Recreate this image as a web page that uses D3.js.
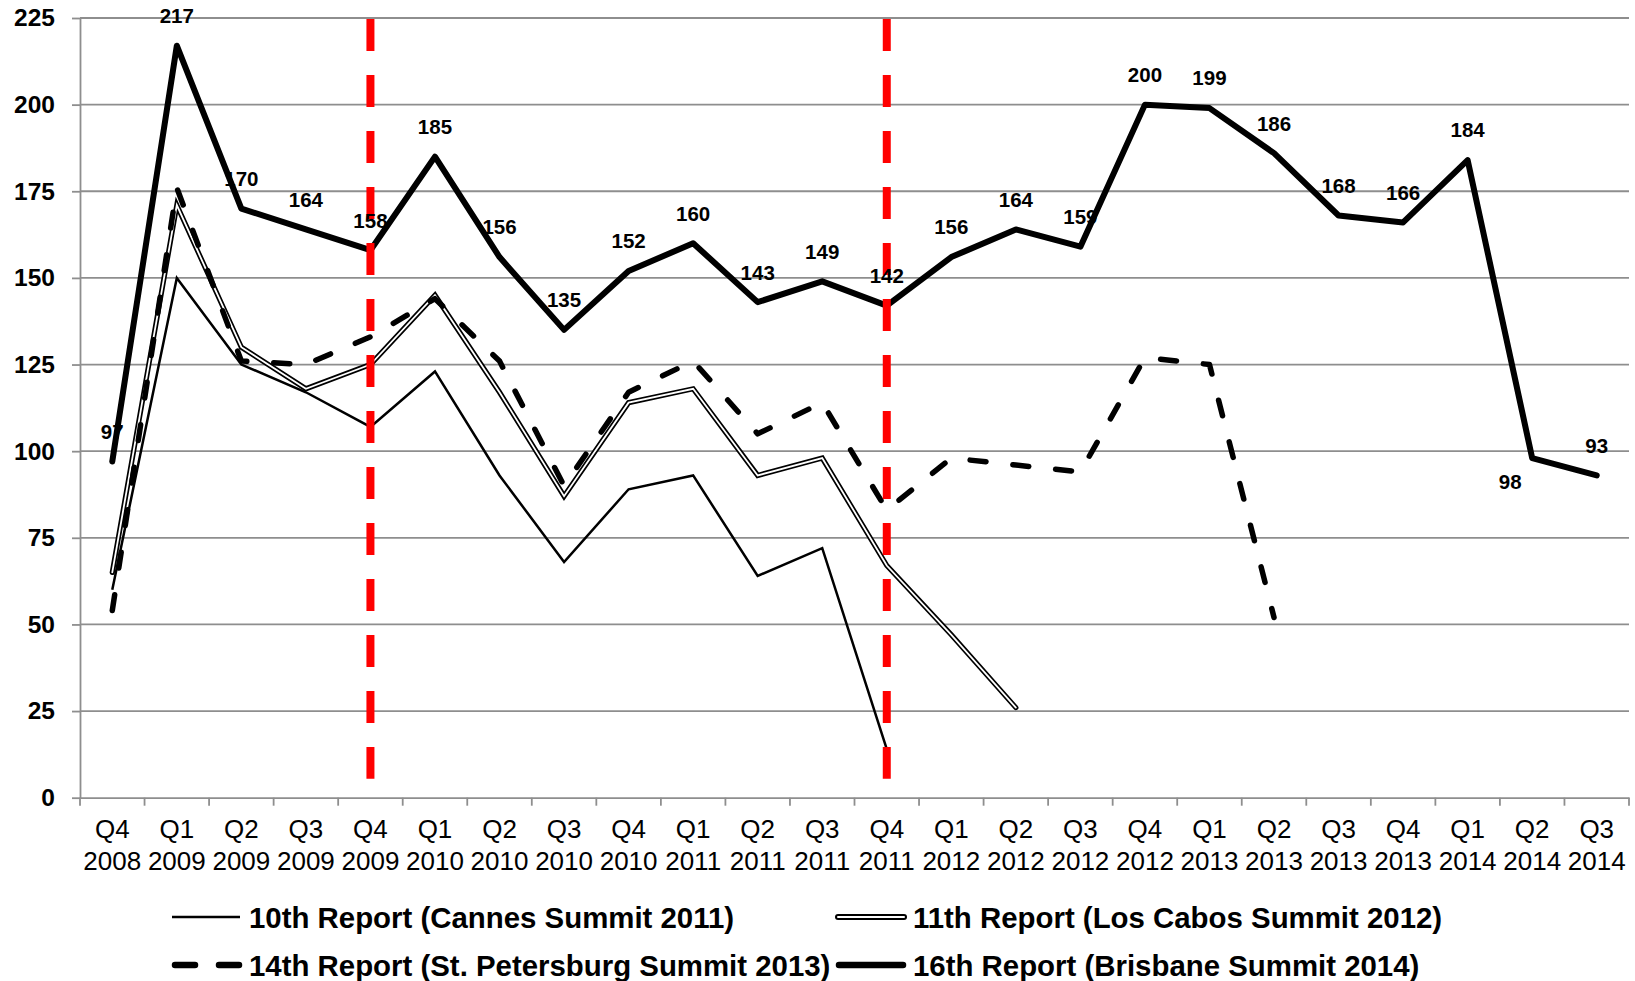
<!DOCTYPE html>
<html>
<head>
<meta charset="utf-8">
<script src="https://cdn.jsdelivr.net/npm/d3@7"></script>
<style>
    body { margin: 0; background: #fff; }
    svg { display: block; font-family: "Liberation Sans", Arial, sans-serif; }
</style>
</head>
<body>
<script>
// quarters on the x axis
var quarters = ["Q4 2008", "Q1 2009", "Q2 2009", "Q3 2009", "Q4 2009", "Q1 2010", "Q2 2010", "Q3 2010",
    "Q4 2010", "Q1 2011", "Q2 2011", "Q3 2011", "Q4 2011", "Q1 2012", "Q2 2012", "Q3 2012",
    "Q4 2012", "Q1 2013", "Q2 2013", "Q3 2013", "Q4 2013", "Q1 2014", "Q2 2014", "Q3 2014"];

// series values, one per quarter (shorter series simply stop)
var cannes = [60, 150, 125, 117, 107, 123, 93, 68, 89, 93, 64, 72, 14];
var losCabos = [65, 171, 130, 118, 125, 145, 117, 87, 114, 118, 93, 98, 67, 47, 26];
var stPetersburg = [54, 176, 126, 125, 133, 144, 126, 90, 117, 126, 105, 114, 83, 98, 96, 94, 127, 125, 52];
var brisbane = [97, 217, 170, 164, 158, 185, 156, 135, 152, 160, 143, 149, 142, 156, 164, 159, 200, 199, 186,
    168, 166, 184, 98, 93];

var yTicks = [0, 25, 50, 75, 100, 125, 150, 175, 200, 225];

// summit markers (red dashed verticals)
var summitQuarters = ["Q4 2009", "Q4 2011"];

var legendNames = ["10th Report (Cannes Summit 2011)", "11th Report (Los Cabos Summit 2012)",
    "14th Report (St. Petersburg Summit 2013)", "16th Report (Brisbane Summit 2014)"];

window.onload = drawChart();

function drawChart() {
    var width = 1635,
        height = 981;

    var svg = d3.select("body")
        .append("svg")
        .attr("width", width)
        .attr("height", height);

    var x = d3.scaleBand()
        .domain(quarters)
        .range([80, 1629]);

    var y = d3.scaleLinear()
        .domain([0, 225])
        .range([797.7, 18]);

    function cx(i) { return x(quarters[i]) + x.bandwidth() / 2; }

    var line = d3.line()
        .x(function(d, i) { return cx(i); })
        .y(function(d) { return y(d); });

    // gridlines
    svg.selectAll(".grid")
        .data(yTicks.slice(1))
        .enter()
        .append("line")
        .attr("class", "grid")
        .attr("x1", 80)
        .attr("x2", 1629)
        .attr("y1", function(d) { return y(d); })
        .attr("y2", function(d) { return y(d); })
        .style("stroke", "#8e8e8e")
        .style("stroke-width", 1.8);

    // y axis
    var yAxis = svg.append("g")
        .attr("transform", "translate(80,0)")
        .call(d3.axisLeft(y).tickValues(yTicks).tickSize(8).tickSizeOuter(0).tickPadding(17));
    yAxis.selectAll("line, path").style("stroke", "#8e8e8e").style("stroke-width", 1.8);
    yAxis.selectAll("text")
        .style("font-size", "24.5px")
        .style("font-weight", "bold")
        .style("fill", "#000")
        .style("font-family", "Liberation Sans, Arial, sans-serif");

    // x axis
    var xAxis = svg.append("g")
        .attr("transform", "translate(0," + y(0) + ")")
        .call(d3.axisBottom(x).tickSize(0).tickSizeOuter(0).tickPadding(0));
    xAxis.select(".domain").style("stroke", "#8e8e8e").style("stroke-width", 1.8);
    xAxis.selectAll(".tick text").each(function(d) {
        var parts = d.split(" ");
        var t = d3.select(this).text(null).attr("y", 0).attr("dy", null);
        t.append("tspan").attr("x", 0).attr("y", 40).text(parts[0]);
        t.append("tspan").attr("x", 0).attr("y", 72).text(parts[1]);
    });
    xAxis.selectAll("text")
        .style("font-size", "26px")
        .style("fill", "#000")
        .style("font-family", "Liberation Sans, Arial, sans-serif");

    // tick marks sit on the band edges
    var edges = quarters.map(function(q) { return x(q); }).concat([x.range()[1]]);
    svg.selectAll(".xtick")
        .data(edges)
        .enter()
        .append("line")
        .attr("class", "xtick")
        .attr("x1", function(d) { return d; })
        .attr("x2", function(d) { return d; })
        .attr("y1", y(0))
        .attr("y2", y(0) + 8)
        .style("stroke", "#8e8e8e")
        .style("stroke-width", 1.8);

    // 10th report - thin line
    svg.append("path")
        .datum(cannes)
        .attr("d", line)
        .style("fill", "none")
        .style("stroke", "#000")
        .style("stroke-width", 2.5)
        .style("stroke-linejoin", "miter");

    // 11th report - double line (black with white core)
    svg.append("path")
        .datum(losCabos)
        .attr("d", line)
        .style("fill", "none")
        .style("stroke", "#000")
        .style("stroke-width", 5.2)
        .style("stroke-linecap", "round");
    svg.append("path")
        .datum(losCabos)
        .attr("d", line)
        .style("fill", "none")
        .style("stroke", "#fff")
        .style("stroke-width", 1.8)
        .style("stroke-linecap", "round");

    // 14th report - dashed
    svg.append("path")
        .datum(stPetersburg)
        .attr("d", line)
        .style("fill", "none")
        .style("stroke", "#000")
        .style("stroke-width", 5.5)
        .style("stroke-dasharray", "16,27")
        .style("stroke-linecap", "round")
        .style("stroke-linejoin", "round");

    // 16th report - thick line
    svg.append("path")
        .datum(brisbane)
        .attr("d", line)
        .style("fill", "none")
        .style("stroke", "#000")
        .style("stroke-width", 6)
        .style("stroke-linecap", "round")
        .style("stroke-linejoin", "round");

    // summit markers
    svg.selectAll(".summit")
        .data(summitQuarters)
        .enter()
        .append("line")
        .attr("class", "summit")
        .attr("x1", function(d) { return x(d) + x.bandwidth() / 2; })
        .attr("x2", function(d) { return x(d) + x.bandwidth() / 2; })
        .attr("y1", y(225) + 1)
        .attr("y2", y(5.5))
        .style("stroke", "#ff0000")
        .style("stroke-width", 8)
        .style("stroke-dasharray", "32,24");

    // data labels on the 16th report
    svg.selectAll(".dlabel")
        .data(brisbane)
        .enter()
        .append("text")
        .attr("class", "dlabel")
        .attr("x", function(d, i) { return cx(i) + (i === 22 ? -22 : 0); })
        .attr("y", function(d, i) { return y(d) + (i === 22 ? 24 : -30); })
        .attr("dy", "0.36em")
        .attr("text-anchor", "middle")
        .style("font-size", "20.5px")
        .style("font-weight", "bold")
        .text(function(d) { return d; });

    // legend
    var legendX = [172, 836],
        legendRowY = [917, 965];

    var legend = svg.selectAll(".legend")
        .data(legendNames)
        .enter()
        .append("g")
        .attr("class", "legend")
        .attr("transform", function(d, i) {
            return "translate(" + legendX[i % 2] + "," + legendRowY[Math.floor(i / 2)] + ")";
        });

    legend.each(function(d, i) {
        var g = d3.select(this);
        var sw = (i % 2 === 0) ? 68 : 70;
        if (i === 0) {
            g.append("line").attr("x1", 0).attr("x2", sw)
                .style("stroke", "#000").style("stroke-width", 2.5);
        } else if (i === 1) {
            g.append("line").attr("x1", 2).attr("x2", sw - 2)
                .style("stroke", "#000").style("stroke-width", 6).style("stroke-linecap", "round");
            g.append("line").attr("x1", 2).attr("x2", sw - 2)
                .style("stroke", "#fff").style("stroke-width", 2).style("stroke-linecap", "round");
        } else if (i === 2) {
            g.append("line").attr("x1", 3).attr("x2", sw)
                .style("stroke", "#000").style("stroke-width", 6.5)
                .style("stroke-dasharray", "20,24").style("stroke-linecap", "round");
        } else {
            g.append("line").attr("x1", 3).attr("x2", sw - 3)
                .style("stroke", "#000").style("stroke-width", 6.5).style("stroke-linecap", "round");
        }
        g.append("text")
            .attr("x", sw + 9 - (i % 2 === 0 ? 0 : 2))
            .attr("y", 10.5)
            .style("font-size", "29.4px")
            .style("font-weight", "bold")
            .text(d);
    });
}
</script>
</body>
</html>
